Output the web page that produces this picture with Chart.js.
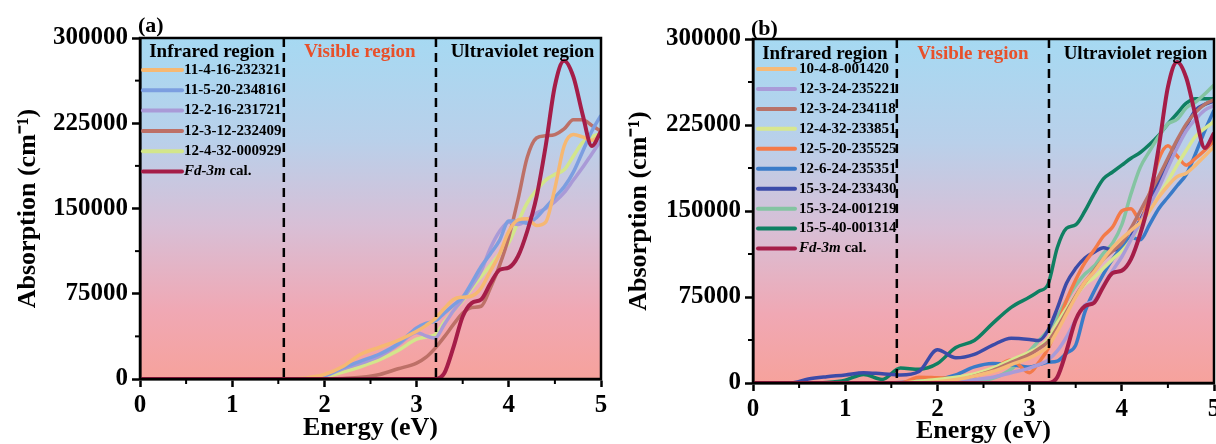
<!DOCTYPE html>
<html>
<head>
<meta charset="utf-8">
<script src="https://cdn.jsdelivr.net/npm/chart.js@4.4.0/dist/chart.umd.min.js"></script>
<style>
  html, body { margin: 0; padding: 0; background: #fff; }
  .panel { position: absolute; top: 0; width: 608px; height: 444px; }
  #wrapA { left: 0; }
  #wrapB { left: 608px; }
</style>
</head>
<body>
<div class="panel" id="wrapA"><canvas id="chartA" width="608" height="444"></canvas></div>
<div class="panel" id="wrapB"><canvas id="chartB" width="608" height="444"></canvas></div>
<script>
const FONT = '"Liberation Serif", "Times New Roman", Times, serif';

// shared energy grid (eV)
const energy = [0, 0.4, 0.6, 0.8, 1.0, 1.2, 1.4, 1.6, 1.8,
  2.0, 2.2, 2.4, 2.6, 2.8, 3.0,
  3.1, 3.2, 3.3, 3.4, 3.5, 3.6, 3.7, 3.8, 3.9, 4.0,
  4.1, 4.2, 4.3, 4.4, 4.5, 4.6, 4.7, 4.8, 4.9, 5.0];

const xTickValues = [0, 1, 2, 3, 4, 5];
const yTickValues = [0, 75000, 150000, 225000, 300000];
const regionBounds = [1.56, 3.21];
const regionNames = ['Infrared region', 'Visible region', 'Ultraviolet region'];
const regionColors = ['#000000', '#e8502a', '#000000'];

// calculated Fd-3m curve (same in both panels)
const fdCal = [0, 0, 0, 0, 0, 0, 0, 0, 0,
  0, 0, 0, 0, 0, 0,
  0, 0, 5000, 28000, 55000, 67000, 70000, 84000, 96000, 98000,
  108000, 130000, 160000, 205000, 258000, 280000, 266000, 233000, 205000, 218000];

// panel (a)
const a_11_4_16 = [0, 0, 0, 0, 0, 0, 0, 0, 1000,
  4000, 11000, 22000, 28000, 34000, 42000,
  47000, 53000, 62000, 70000, 72000, 73000, 80000, 95000, 110000, 130000,
  140000, 141000, 135000, 138000, 168000, 205000, 215000, 213000, 210000, 215000];
const a_11_5_20 = [0, 0, 0, 0, 0, 0, 0, 0, 500,
  3000, 10000, 16000, 22000, 31000, 45000,
  49000, 51000, 58000, 65000, 72000, 85000, 99000, 110000, 122000, 139000,
  139000, 137000, 142000, 151000, 160000, 169000, 182000, 200000, 218000, 232000];
const a_12_2_16 = [0, 0, 0, 0, 0, 0, 0, 0, 300,
  2500, 9000, 14000, 20000, 30000, 41000,
  38000, 36000, 48000, 60000, 70000, 82000, 95000, 115000, 130000, 138000,
  136000, 140000, 146000, 150000, 156000, 164000, 175000, 186000, 198000, 210000];
const a_12_3_12 = [0, 0, 0, 0, 0, 0, 0, 0, 0,
  0, 500, 1500, 4000, 9000, 14000,
  19000, 27000, 37000, 48000, 58000, 63000, 64000, 80000, 100000, 125000,
  158000, 195000, 212000, 214000, 215000, 220000, 228000, 228000, 223000, 218000];
const a_12_4_32 = [0, 0, 0, 0, 0, 0, 0, 0, 300,
  2000, 6000, 11000, 17000, 25000, 35000,
  37000, 39000, 50000, 60000, 69000, 80000, 90000, 100000, 110000, 120000,
  138000, 155000, 166000, 175000, 180000, 184000, 196000, 208000, 213000, 216000];

const labelsA = ['11-4-16-232321', '11-5-20-234816', '12-2-16-231721', '12-3-12-232409', '12-4-32-000929', 'Fd-3m cal.'];
const colorsA = ['#f6b872', '#7c9ee0', '#a99ad7', '#bd7067', '#d3e68b', '#a51d48'];
const seriesA = [a_11_4_16, a_11_5_20, a_12_2_16, a_12_3_12, a_12_4_32, fdCal];

// panel (b)
const b_10_4_8 = [0, 0, 0, 0, 0, 0, 0, 0, 0,
  1000, 3000, 6000, 10000, 16000, 22000,
  26000, 32000, 45000, 60000, 75000, 88000, 97000, 108000, 118000, 126000,
  133000, 140000, 150000, 162000, 172000, 180000, 183000, 190000, 198000, 206000];
const b_12_3_24a = [0, 0, 0, 0, 0, 0, 0, 0, 0,
  0, 1000, 3000, 5000, 9000, 13000,
  16000, 20000, 28000, 40000, 55000, 68000, 72000, 85000, 98000, 110000,
  125000, 140000, 155000, 170000, 188000, 205000, 220000, 230000, 238000, 242000];
const b_12_3_24b = [0, 0, 0, 0, 0, 0, 0, 0, 0,
  500, 2000, 6000, 11000, 18000, 25000,
  30000, 36000, 48000, 62000, 76000, 88000, 98000, 108000, 115000, 122000,
  135000, 150000, 165000, 180000, 196000, 212000, 226000, 236000, 243000, 247000];
const b_12_4_32 = [0, 0, 0, 0, 0, 0, 0, 0, 1500,
  3000, 5000, 8000, 13000, 20000, 27000,
  31000, 38000, 52000, 65000, 76000, 86000, 92000, 100000, 108000, 115000,
  125000, 138000, 150000, 163000, 176000, 190000, 203000, 215000, 222000, 228000];
const b_12_5_20 = [0, 0, 0, 0, 0, 0, 0, 0, 5000,
  4500, 4000, 7000, 12000, 20000, 9000,
  18000, 30000, 50000, 72000, 90000, 105000, 116000, 128000, 136000, 150000,
  152000, 142000, 165000, 195000, 207000, 198000, 190000, 196000, 203000, 211000];
const b_12_6_24 = [0, 0, 0, 0, 0, 0, 0, 500, 1500,
  3000, 7000, 14000, 17000, 16000, 14000,
  16000, 18000, 19000, 26000, 33000, 62000, 80000, 95000, 108000, 118000,
  127000, 125000, 138000, 152000, 162000, 172000, 182000, 200000, 220000, 238000];
const b_15_3_24a = [0, 0, 3500, 5500, 7000, 9000, 8000, 7000, 10000,
  29000, 22000, 25000, 33000, 39000, 38000,
  37000, 46000, 65000, 87000, 100000, 109000, 114000, 118000, 116000, 118000,
  128000, 142000, 158000, 175000, 192000, 208000, 224000, 238000, 243000, 246000];
const b_15_3_24b = [0, 0, 0, 0, 0, 0, 0, 0, 0,
  0, 0, 1000, 4000, 12000, 28000,
  37000, 46000, 58000, 72000, 85000, 95000, 102000, 113000, 122000, 138000,
  165000, 188000, 202000, 215000, 226000, 230000, 240000, 245000, 252000, 260000];
const b_15_5_40 = [0, 0, 0, 500, 2500, 7500, 3000, 13000, 12000,
  17000, 31000, 37000, 52000, 66000, 75000,
  80000, 86000, 118000, 135000, 138000, 150000, 165000, 178000, 184000, 190000,
  196000, 201000, 208000, 216000, 226000, 235000, 244000, 248000, 248000, 248000];

const labelsB = ['10-4-8-001420', '12-3-24-235221', '12-3-24-234118', '12-4-32-233851', '12-5-20-235525',
  '12-6-24-235351', '15-3-24-233430', '15-3-24-001219', '15-5-40-001314', 'Fd-3m cal.'];
const colorsB = ['#f6ba78', '#a99bd8', '#b87369', '#d8e78f', '#f47a48',
  '#3a7bc8', '#3c4ba8', '#84c4a2', '#0f7f62', '#a51d48'];
const seriesB = [b_10_4_8, b_12_3_24a, b_12_3_24b, b_12_4_32, b_12_5_20,
  b_12_6_24, b_15_3_24a, b_15_3_24b, b_15_5_40, fdCal];

function buildDatasets(labels, colors, series) {
  return labels.map((lab, i) => {
    const isCal = lab.startsWith('Fd-3m');
    return {
      label: lab,
      data: energy.map((e, k) => ({ x: e, y: series[i][k] })),
      borderColor: colors[i],
      borderWidth: isCal ? 4 : 3.5,
      pointRadius: 0,
      fill: false,
      cubicInterpolationMode: 'monotone',
      order: isCal ? 0 : 1
    };
  });
}

function midpoints(vals) {
  const out = [];
  for (let i = 0; i < vals.length - 1; i++) out.push((vals[i] + vals[i + 1]) / 2);
  return out;
}

const decorPlugin = {
  id: 'decor',
  beforeDraw(chart) {
    const { ctx, chartArea: a } = chart;
    const g = ctx.createLinearGradient(0, a.top, 0, a.bottom);
    g.addColorStop(0, '#a6d9f2');
    g.addColorStop(0.3, '#b9d0ea');
    g.addColorStop(0.55, '#d8bfd6');
    g.addColorStop(0.8, '#f0a8b4');
    g.addColorStop(1, '#f6a29c');
    ctx.save();
    ctx.fillStyle = g;
    ctx.fillRect(a.left, a.top, a.right - a.left, a.bottom - a.top);
    ctx.restore();
  },
  afterDatasetsDraw(chart) {
    const { ctx, chartArea: a, scales: { x } } = chart;
    ctx.save();
    ctx.strokeStyle = '#000';
    ctx.lineWidth = 2.5;
    ctx.setLineDash([9, 6]);
    regionBounds.forEach(b => {
      const px = x.getPixelForValue(b);
      ctx.beginPath();
      ctx.moveTo(px, a.top);
      ctx.lineTo(px, a.bottom);
      ctx.stroke();
    });
    ctx.restore();
  },
  afterDraw(chart, args, o) {
    const { ctx, chartArea: a, scales: { x, y } } = chart;
    ctx.save();
    // frame
    ctx.strokeStyle = '#000';
    ctx.lineWidth = 2.5;
    ctx.strokeRect(a.left, a.top, a.right - a.left, a.bottom - a.top);
    // minor ticks
    ctx.lineWidth = 2;
    midpoints(xTickValues).forEach(v => {
      const px = x.getPixelForValue(v);
      ctx.beginPath(); ctx.moveTo(px, a.bottom); ctx.lineTo(px, a.bottom + 5); ctx.stroke();
    });
    midpoints(yTickValues).forEach(v => {
      const py = y.getPixelForValue(v);
      ctx.beginPath(); ctx.moveTo(a.left, py); ctx.lineTo(a.left - 5, py); ctx.stroke();
    });
    // region names
    const edges = [x.min, ...regionBounds, x.max];
    ctx.font = `bold 19px ${FONT}`;
    ctx.textAlign = 'center';
    ctx.textBaseline = 'alphabetic';
    regionNames.forEach((name, i) => {
      let cx = (x.getPixelForValue(edges[i]) + x.getPixelForValue(edges[i + 1])) / 2;
      if (i === 2) cx += 4;
      ctx.fillStyle = regionColors[i];
      ctx.fillText(name, cx, a.top + o.regionDy);
    });
    // panel tag
    ctx.textAlign = 'left';
    ctx.fillStyle = '#000';
    ctx.font = `bold 22px ${FONT}`;
    ctx.fillText(o.tag, a.left - 2, o.tagY);
    // legend
    ctx.textBaseline = 'middle';
    ctx.lineCap = 'round';
    chart.data.datasets.forEach((ds, i) => {
      const ly = a.top + o.rowY0 + i * o.rowDy;
      ctx.strokeStyle = ds.borderColor;
      ctx.lineWidth = 4;
      ctx.beginPath();
      ctx.moveTo(a.left + o.lineX0, ly);
      ctx.lineTo(a.left + o.lineX1, ly);
      ctx.stroke();
      ctx.fillStyle = '#000';
      let tx = a.left + o.textX;
      if (ds.label.startsWith('Fd-3m')) {
        ctx.font = `italic bold 15px ${FONT}`;
        ctx.fillText('Fd-3m', tx, ly);
        tx += ctx.measureText('Fd-3m').width;
        ctx.font = `bold 15px ${FONT}`;
        ctx.fillText(ds.label.slice(5), tx, ly);
      } else {
        ctx.font = `bold 15px ${FONT}`;
        ctx.fillText(ds.label, tx, ly);
      }
    });
    ctx.restore();
  }
};

function makeChart(id, datasets, box, decor) {
  return new Chart(document.getElementById(id), {
    type: 'line',
    data: { datasets },
    options: {
      responsive: false,
      animation: false,
      layout: { padding: { left: 0, top: box.top, right: 608 - box.right, bottom: 0 } },
      plugins: { legend: { display: false }, tooltip: { enabled: false }, decor },
      scales: {
        x: {
          type: 'linear', min: 0, max: 5,
          afterBuildTicks: s => { s.ticks = xTickValues.map(v => ({ value: v })); },
          afterFit: s => { s.height = 444 - box.bottom; s.paddingLeft = 0; s.paddingRight = 0; },
          ticks: { color: '#000', font: { family: FONT, size: 25, weight: 'bold' }, padding: 4, maxRotation: 0, autoSkip: false },
          grid: { drawOnChartArea: false, drawTicks: true, tickLength: 8, tickWidth: 2.5, tickColor: '#000' },
          border: { display: true, color: '#000', width: 2.5 },
          title: { display: true, text: 'Energy (eV)', color: '#000',
            font: { family: FONT, size: 26, weight: 'bold', lineHeight: 1 },
            padding: { top: 0, bottom: box.xTitlePad } }
        },
        y: {
          type: 'linear', min: 0, max: 300000,
          afterBuildTicks: s => { s.ticks = yTickValues.map(v => ({ value: v })); },
          afterFit: s => { s.width = box.left; s.paddingTop = 0; s.paddingBottom = 0; },
          ticks: { color: '#000', font: { family: FONT, size: 25, weight: 'bold' }, padding: 4, autoSkip: false,
            callback: v => String(v) },
          grid: { drawOnChartArea: false, drawTicks: true, tickLength: 8, tickWidth: 2.5, tickColor: '#000' },
          border: { display: true, color: '#000', width: 2.5 },
          title: { display: true, text: 'Absorption (cm\u207B\u00B9)', color: '#000',
            font: { family: FONT, size: 26, weight: 'bold', lineHeight: 1 },
            padding: { top: box.yTitlePad, bottom: 0 } }
        }
      }
    },
    plugins: [decorPlugin]
  });
}

makeChart('chartA', buildDatasets(labelsA, colorsA, seriesA),
  { left: 140, top: 38, right: 601, bottom: 379, xTitlePad: 3, yTitlePad: 15 },
  { tag: '(a)', tagY: 32, regionDy: 19, rowY0: 32, rowDy: 20.3, lineX0: 3, lineX1: 42, textX: 44 });

makeChart('chartB', buildDatasets(labelsB, colorsB, seriesB),
  { left: 145, top: 39, right: 606, bottom: 383, xTitlePad: 0, yTitlePad: 18 },
  { tag: '(b)', tagY: 35, regionDy: 20, rowY0: 30, rowDy: 19.95, lineX0: 5, lineX1: 42, textX: 46 });
</script>
</body>
</html>
